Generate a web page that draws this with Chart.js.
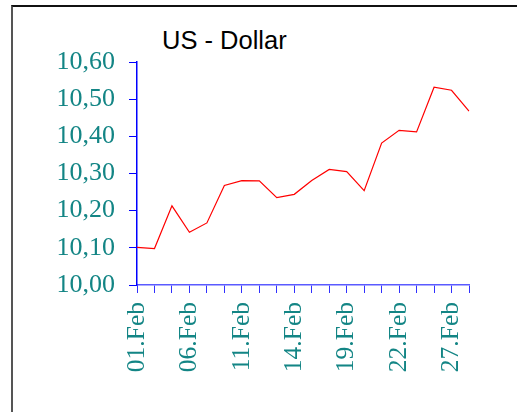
<!DOCTYPE html>
<html>
<head>
<meta charset="utf-8">
<script src="https://cdn.jsdelivr.net/npm/chart.js@4/dist/chart.umd.min.js"></script>
<style>
    html, body { margin: 0; padding: 0; background: #fff; }
    #wrap { position: relative; width: 517px; height: 412px; overflow: hidden; }
    #frame {
        position: absolute; left: 11px; top: 5px; width: 520px; height: 420px;
        border-top: 2px solid #111; border-left: 2px solid #555;
    }
    #title {
        position: absolute; left: 162px; top: 27px;
        font: 25.5px "Liberation Sans", Arial, sans-serif; line-height: 26px; color: #000;
    }
    #chart { position: absolute; left: 0; top: 0; }
</style>
</head>
<body>
<div id="wrap">
    <div id="frame"></div>
    <div id="title">US - Dollar</div>
    <canvas id="chart" width="517" height="412"></canvas>
</div>
<script>
// trading days, Feb 2002
const days = ["01.Feb", "04.Feb", "05.Feb", "06.Feb", "07.Feb", "08.Feb", "11.Feb", "12.Feb", "13.Feb", "14.Feb",
              "15.Feb", "18.Feb", "19.Feb", "20.Feb", "21.Feb", "22.Feb", "25.Feb", "26.Feb", "27.Feb", "28.Feb"];
const rates = [10.101, 10.098, 10.213, 10.142, 10.167, 10.268, 10.281, 10.280, 10.235, 10.244,
               10.281, 10.311, 10.305, 10.254, 10.382, 10.416, 10.412, 10.532, 10.524, 10.468];
const yMin = 10.0, yMax = 10.6, yStep = 0.1;

document.addEventListener("DOMContentLoaded", () => {
    const teal = "#138585";
    const serif = "'Liberation Serif', 'Times New Roman', serif";

    new Chart(document.getElementById("chart").getContext("2d"), {
        type: "line",
        data: {
            labels: days,
            datasets: [{
                data: rates,
                borderColor: "#ff0000",
                borderWidth: 1.2,
                pointRadius: 0,
                tension: 0,
                fill: false
            }]
        },
        options: {
            responsive: false,
            animation: false,
            layout: { padding: { left: 0, right: 48, top: 62, bottom: 0 } },
            plugins: { legend: { display: false }, tooltip: { enabled: false } },
            scales: {
                x: {
                    offset: false,
                    grid: { drawOnChartArea: false, drawTicks: true, tickLength: 8, color: "#3030ff" },
                    border: { color: "#5a5aff", width: 1.5 },
                    ticks: {
                        autoSkip: false,
                        maxRotation: 90,
                        minRotation: 90,
                        padding: 9,
                        color: teal,
                        font: { family: serif, size: 25.5 },
                        callback: (val, i) => (i % 3 === 0 ? days[i] : "")
                    },
                    afterFit: (scale) => { scale.height = 127; }
                },
                y: {
                    min: yMin,
                    max: yMax,
                    grid: { drawOnChartArea: false, drawTicks: true, tickLength: 8, color: "#0000ff" },
                    border: { color: "#0000ff", width: 1.5 },
                    ticks: {
                        stepSize: yStep,
                        padding: 14,
                        color: teal,
                        font: { family: serif, size: 26 },
                        callback: (v) => v.toFixed(2).replace(".", ",")
                    },
                    afterFit: (scale) => { scale.width = 137; }
                }
            }
        }
    });
});
</script>
</body>
</html>
